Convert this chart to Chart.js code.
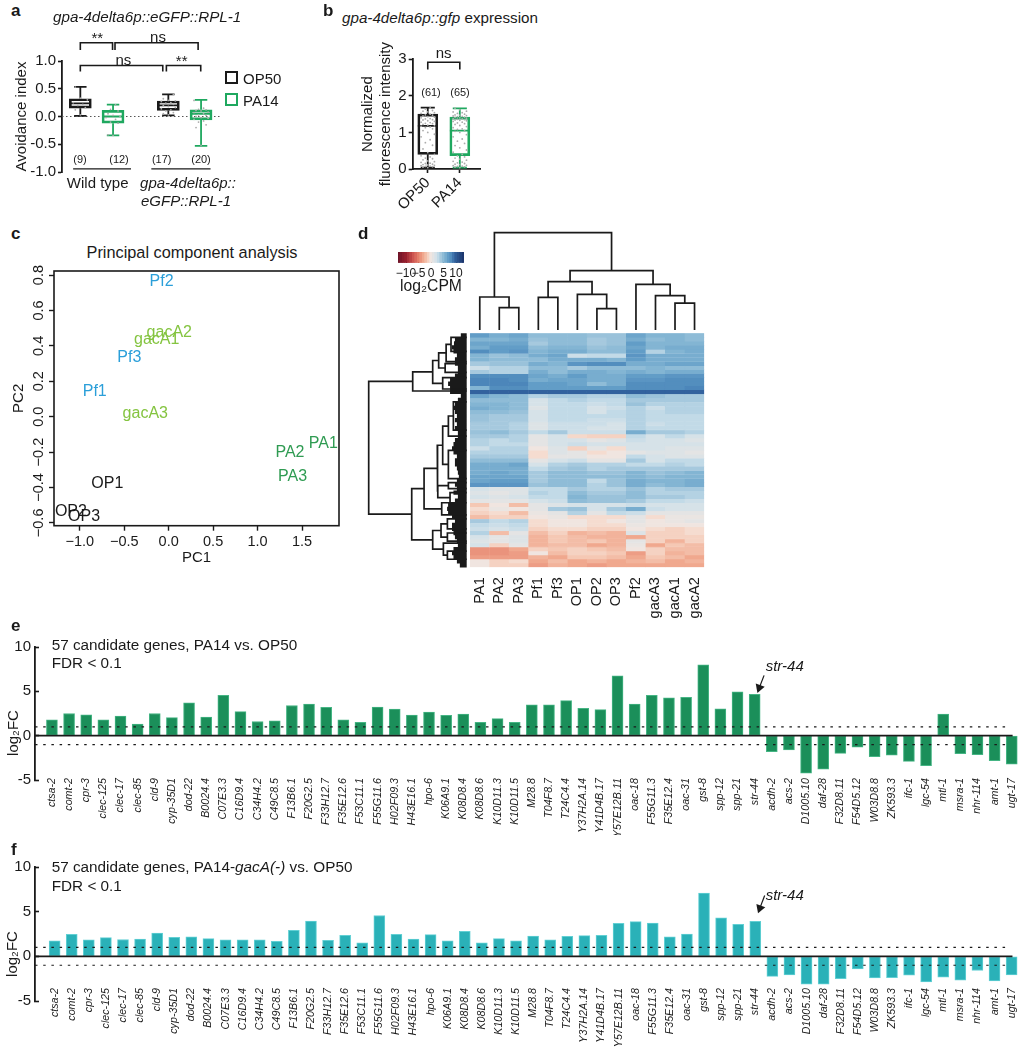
<!DOCTYPE html>
<html>
<head>
<meta charset="utf-8">
<title>str-44 figure</title>
<script src="https://cdn.jsdelivr.net/npm/chart.js@4"></script>
<style>
  html, body { margin: 0; padding: 0; background: #fff; }
  #page { position: relative; width: 1026px; height: 1050px; overflow: hidden; font-family: "Liberation Sans", Arial, sans-serif; color: #1a1a1a; }
  #page canvas { position: absolute; }
  .note { position: absolute; white-space: nowrap; line-height: 1; }
  .swatch { position: absolute; box-sizing: border-box; width: 13px; height: 13px; border: 2px solid; }
</style>
</head>
<body>
<div id="page"></div>
<script>
// panel a
const aPos = [1, 2, 3.69, 4.69];
const aLow = [0.01, -0.34, 0.02, -0.53];
const aQ1 = [0.15, -0.12, 0.11, -0.06];
const aMed = [0.235, 0, 0.2, 0.05];
const aQ3 = [0.32, 0.11, 0.28, 0.12];
const aHigh = [0.535, 0.215, 0.40, 0.30];
const aDots = [
  [0.03, 0.12, 0.16, 0.2, 0.22, 0.25, 0.3, 0.33, 0.53],
  [-0.34, -0.33, -0.12, -0.1, -0.05, -0.02, 0, 0.02, 0.05, 0.1, 0.13, 0.21],
  [0.03, 0.05, 0.07, 0.1, 0.12, 0.14, 0.16, 0.18, 0.2, 0.22, 0.24, 0.25, 0.27, 0.28, 0.29, 0.32, 0.4],
  [-0.52, -0.2, -0.15, -0.1, -0.08, -0.05, -0.03, -0.02, 0, 0.02, 0.03, 0.05, 0.07, 0.08, 0.1, 0.11, 0.12, 0.13, 0.15, 0.29]
];

// panel b
const bPos = [1, 2];
const bNames = ['OP50', 'PA14'];
const bLow = [0.04, 0.04];
const bQ1 = [0.40, 0.365];
const bMed = [1.18, 1.05];
const bQ3 = [1.5, 1.42];
const bHigh = [1.68, 1.66];
const bDots = [
  [0.04,0.05,0.06,0.07,0.08,0.09,0.1,0.11,0.12,0.13,0.15,0.16,0.18,0.2,0.22,0.25,0.28,0.3,0.33,0.36,0.4,0.45,0.55,0.65,0.72,0.8,0.88,0.95,1.0,1.05,1.1,1.13,1.15,1.17,1.18,1.2,1.22,1.24,1.25,1.27,1.28,1.3,1.32,1.34,1.35,1.37,1.38,1.4,1.42,1.43,1.45,1.47,1.48,1.5,1.52,1.54,1.56,1.58,1.6,1.64,1.67],
  [0.04,0.05,0.06,0.07,0.08,0.09,0.1,0.12,0.13,0.15,0.17,0.19,0.21,0.24,0.27,0.3,0.33,0.36,0.4,0.46,0.52,0.58,0.64,0.7,0.76,0.82,0.88,0.94,1.0,1.03,1.05,1.08,1.1,1.13,1.16,1.19,1.22,1.24,1.26,1.28,1.3,1.32,1.33,1.34,1.35,1.36,1.37,1.38,1.39,1.4,1.41,1.42,1.43,1.44,1.45,1.46,1.47,1.48,1.5,1.52,1.54,1.56,1.58,1.62,1.66]
];

// panel c
const pcaNames = ['Pf2', 'gacA2', 'gacA1', 'Pf3', 'Pf1', 'gacA3', 'PA1', 'PA2', 'PA3', 'OP1', 'OP2', 'OP3'];
const pcaX = [-0.08, 0.007, -0.135, -0.443, -0.832, -0.263, 1.739, 1.364, 1.394, -0.69, -1.10, -0.952];
const pcaY = [0.765, 0.475, 0.437, 0.333, 0.141, 0.017, -0.153, -0.201, -0.341, -0.378, -0.538, -0.567];

// panel d
const heatColumns = ['PA1', 'PA2', 'PA3', 'Pf1', 'Pf3', 'OP1', 'OP2', 'OP3', 'Pf2', 'gacA3', 'gacA1', 'gacA2'];
const heatRows = [
  [7,6,6.5,5,5,5,4.5,4.5,6.5,5.5,5.5,5],
  [5.5,5.5,6,4.5,5,5,4,4.5,6,5,5.5,5],
  [6.5,6.5,6.5,4,5,5,4,4.5,7,5.5,5.5,5.5],
  [6,7,7,5,5.5,5.5,4.5,5,6.5,5.5,6,6],
  [8,7,7.5,5.5,6,6,5,5,7,3.5,5.5,6],
  [5.5,4.5,5,6,6.5,2.5,3,3,7.5,6,6,6],
  [5.5,5,5,5,6,6,6,5.5,7,6,6,6],
  [4,4.5,4.5,6,5.5,7.5,8,8,6,6,6.5,6.5],
  [2.5,3.5,3.5,5,5,4,5,5,5,5.5,5,5],
  [4,3.5,3.5,6,5,6,6,5.5,6,5.5,6,6],
  [8,8,8,6.5,6,7,6,6,7,7,7.5,7.5],
  [8.5,8.5,8,6,6.5,6.5,6,6,7.5,7.5,8,8],
  [8.5,8.5,8.5,7,7,6.5,5,6,8,8,8,8],
  [5.5,8,8,7,7,7,7,7,8,8,8,8.5],
  [9.5,9.5,9.5,9.5,9.5,9.5,9.5,9.5,9.5,9.5,9.5,9.5],
  [6.5,5.5,5,3.5,4,4,3.5,3.5,5,4.5,4,4],
  [5,5,5,2,3,3.5,3,3,4,4,4,4],
  [5.5,5.5,5,2,3,3,2.5,3,4.5,3.5,3.5,3.5],
  [6,5.5,5,1.5,3,3,2,2.5,3.5,2.5,3.5,3.5],
  [5,5,4.5,2,3,3,2,3,3.5,3,3.5,3.5],
  [4.5,4,4,2,3,3,3,3,3.5,3,3,3],
  [4.5,4,4,2,3,3,2.5,2.5,3.5,3,3,3],
  [4,4,3.5,1.5,2.5,2.5,2.5,2,3.5,2.5,3,3],
  [4,4,3.5,1.5,2.5,2.5,2,2,3.5,3,3,3],
  [4.5,5,4,3,4,2.5,2.5,2.5,6,4,4,3.5],
  [4,4,3.5,1,2,-0.7,-1,-1,3,2,3,2],
  [3.5,3,3.5,1,2,2,1,1.5,2.5,2,2,1.5],
  [3.5,3,3,1,2,2.5,2,2,2,2,2,2],
  [2.5,3.5,3.5,0,1.5,-1,1,-0.5,2,2,1.5,1.5],
  [3.5,3.5,3.5,-0.5,1.5,1,-0.5,0,1,1.5,1.5,1],
  [4,4,4,-0.5,1,1,0,0,3,2,1.5,1.5],
  [5,5,5,1,2,2.5,1,1,4,2,3,3],
  [6,6,6.5,2,3.5,4,3.5,3.5,3,3,3.5,3],
  [6,6,6,3,4,4.5,3.5,4,4,4,4,4],
  [6,6.5,6,4,5,5,4.5,4.5,5.5,4.5,5,5.5],
  [6.5,6.5,6.5,4,5,5,5,5,5.5,5,5.5,5.5],
  [6.5,7,7,4,5,5,3,4.5,6,5.5,5.5,6],
  [7.5,7.5,7.5,4.5,5,5,3.5,4.5,6,5,5.5,6],
  [2,1.5,1.5,3,3,4,3.5,3.5,4.5,3.5,4,4],
  [1.5,1,1.5,3.5,3,5,4,4,5,3.5,3.5,3.5],
  [2,1.5,2,3,3,5.5,4.5,4.5,5,4,4,3.5],
  [1,1,1,2,2.5,5,4.5,4.5,4,3,3,2.5],
  [-1.5,0,-2,1,1.5,2,2,2,2.5,2,2,2],
  [-0.5,0.5,0,1,4,4.5,2,4,6,2.5,2,2],
  [-1,-0.5,-2,0.5,1,3.5,1,3,2.5,1,1,1],
  [-2,-1,-1,0,0.5,-0.5,-0.5,-0.5,1,-0.5,0.5,0.5],
  [4,3,3.5,-0.5,0,0,-0.5,0,1,0,0.5,1],
  [3,2.5,3,-0.5,0,0,-0.5,-0.5,0.5,0,0,0],
  [2.5,2,2.5,-1,-0.5,-0.5,-1,-1,0,-0.5,-1,-0.5],
  [3.5,-2,1,-2,-1,-2.5,-2,-2.5,1.5,-1,-1,-0.5],
  [2,1,1.5,-2.5,-1.5,-2,-2.5,-2.5,-3,-1,-1,-1],
  [1.5,1,1.5,-2.5,-1.5,-2,-1.5,-2.5,1,-1,-2.5,-1],
  [2,-1,1,-2.5,-2,-2,-3,-2.5,0.5,-3,-1.5,-2],
  [-4,-4,-3,-1,-1.5,-1,-1.5,-2,0,-1,-2,-2],
  [-4,-4,-3.5,0,-2,-1,-1,-1.5,-3.5,-1,-2.5,-2],
  [-3.5,-3.5,-3.5,-2.5,-3,-1.5,-1.5,-2,-3,-1.5,-2,-3],
  [0,-1,-0.5,-3,-2,-3,-2.5,-3,-2.5,-2,-3,-2.5],
  [0,-1,-1,-3.5,-2.5,-3,-3.5,-3,-3,-3,-3,-3]
];
const legendSteps = [-13,-12,-11,-10,-9,-8,-7,-6,-5,-4,-3,-2,-1,0,1,2,3,4,5,6,7,8,9,10,11,12,13];
const legendTicks = [-10, -5, 0, 5, 10];
// merges: [upper child, lower child, height]; a number is a leaf position, a string an earlier merge
const colTree = {
  pa: [1.5, 2.5, 0.229], pa1: [0.5, 'pa', 0.339],
  pf: [3.5, 4.5, 0.336], op: [6.5, 7.5, 0.219], op1: [5.5, 'op', 0.366], pfop: ['pf', 'op1', 0.497],
  ga: [10.5, 11.5, 0.277], ga3: [9.5, 'ga', 0.353], gp: [8.5, 'ga3', 0.469],
  mid: ['pfop', 'gp', 0.61], root: ['pa1', 'mid', 1]
};
const rowTree = {
  b0: [1, 4.5, 0.16], b1: ['b0', 7, 0.21], b2: [7.5, 9.7, 0.22], b: ['b1', 'b2', 0.286],
  c: [11, 13.8, 0.245], a: ['b', 'c', 0.347], t: ['a', 14.3, 0.551],
  m: [17, 24, 0.136], w1: ['m', 25.5, 0.187], w2: [29, 36, 0.187], w: ['w1', 'w2', 0.245],
  x: [37, 38.5, 0.187], z: [39.5, 42, 0.17], y: ['x', 'z', 0.295], v: ['w', 'y', 0.30],
  q: [42, 45, 0.255], u: ['v', 'q', 0.435],
  f: [46, 48.5, 0.197], g: [49.5, 51.5, 0.197], e: ['f', 'g', 0.262],
  i: [54, 56, 0.197], h: [52, 'i', 0.238], d: ['e', 'h', 0.347],
  l: ['u', 'd', 0.561], root: ['t', 'l', 1]
};
const rowTwigs = [.06,.12,.13,.15,.135,.10,.12,.12,.09,.09,.12,.17,.19,.17,.17,.06,.09,.12,.135,.12,.10,.12,.10,.12,.09,.09,.12,.135,.15,.135,.10,.12,.12,.10,.09,.08,.10,.12,.10,.135,.09,.12,.19,.20,.19,.15,.12,.15,.15,.135,.12,.10,.09,.135,.15,.135,.10,.07];

// panels e and f
const genes = ['ctsa-2','comt-2','cpr-3','clec-125','clec-17','clec-85','cld-9','cyp-35D1','dod-22','B0024.4','C07E3.3','C16D9.4','C34H4.2','C49C8.5','F13B6.1','F20G2.5','F33H12.7','F35E12.6','F53C11.1','F55G11.6','H02F09.3','H43E16.1','hpo-6','K06A9.1','K08D8.4','K08D8.6','K10D11.3','K10D11.5','M28.8','T04F8.7','T24C4.4','Y37H2A.14','Y41D4B.17','Y57E12B.11','oac-18','F55G11.3','F35E12.4','oac-31','gst-8','spp-12','spp-21','str-44','acdh-2','acs-2','D1005.10','daf-28','F32D8.11','F54D5.12','W03D8.8','ZK593.3','ifc-1','lgc-54','mtl-1','msra-1','nhr-114','amt-1','ugt-17'];
const pa14Fc = [1.78,2.5,2.35,1.78,2.2,1.3,2.5,2.03,3.7,2.1,4.56,2.72,1.6,1.67,3.4,3.55,3.2,1.78,1.5,3.22,3.0,2.32,2.65,2.28,2.43,1.5,1.92,1.5,3.48,3.48,3.95,3.08,2.93,6.74,3.55,4.56,4.28,4.31,8.0,3.04,4.93,4.67,-1.81,-1.6,-4.24,-3.77,-1.99,-1.3,-2.36,-2.21,-2.9,-3.37,2.43,-2.03,-2.14,-2.83,-3.22];
const gacAFc = [1.74,2.46,1.85,2.1,1.88,1.92,2.6,2.14,2.17,1.99,1.85,1.85,1.85,1.67,2.9,3.95,1.78,2.36,1.52,4.57,2.46,1.92,2.43,1.74,2.79,1.52,1.99,1.74,2.28,1.85,2.25,2.32,2.36,3.7,3.88,3.73,2.17,2.5,7.07,4.31,3.59,3.91,-2.25,-2.07,-3.12,-3.12,-2.5,-1.41,-2.43,-2.39,-2.1,-2.86,-2.32,-2.68,-1.59,-2.75,-2.07];

const BLACK = '#1a1a1a';
const GREEN = '#1fa85f';
const DOT = '#ababab';
const FONT = '"Liberation Sans", Arial, sans-serif';
Chart.defaults.font.family = FONT;
Chart.defaults.color = BLACK;
Chart.defaults.animation = false;
Chart.defaults.plugins.legend.display = false;
Chart.defaults.plugins.tooltip.enabled = false;

const page = document.getElementById('page');

function note(html, x, y, size, opts = {}) {
  const el = document.createElement('div');
  el.className = 'note';
  el.innerHTML = html;
  el.style.left = x + 'px';
  el.style.top = y + 'px';
  el.style.fontSize = size + 'px';
  if (opts.bold) el.style.fontWeight = 'bold';
  if (opts.italic) el.style.fontStyle = 'italic';
  el.style.transform = opts.transform || (opts.center ? 'translate(-50%,-50%)' : 'translateY(-50%)');
  page.appendChild(el);
}

function swatch(x, y, color) {
  const el = document.createElement('div');
  el.className = 'swatch';
  el.style.left = x + 'px';
  el.style.top = y + 'px';
  el.style.borderColor = color;
  page.appendChild(el);
}

// canvas sits at rect, plot area is pinned to area, both in page pixels
function makeChart(rect, area, config) {
  const canvas = document.createElement('canvas');
  canvas.width = rect.w;
  canvas.height = rect.h;
  canvas.style.left = rect.x + 'px';
  canvas.style.top = rect.y + 'px';
  canvas.style.width = rect.w + 'px';
  canvas.style.height = rect.h + 'px';
  page.appendChild(canvas);
  const o = config.options;
  o.responsive = false;
  const { x, y } = o.scales;
  const gapLeft = area.l - rect.x;
  const gapBottom = rect.y + rect.h - area.b;
  const padding = { top: area.t - rect.y, right: rect.x + rect.w - area.r, left: 0, bottom: 0 };
  if (y.display === false) padding.left = gapLeft;
  else y.afterFit = s => { s.width = gapLeft; };
  if (x.display === false) padding.bottom = gapBottom;
  else x.afterFit = s => { s.height = gapBottom; };
  o.layout = { padding };
  return new Chart(canvas, config);
}

function lineSet(data, color, width, extra = {}) {
  return Object.assign({
    type: 'scatter', showLine: true, data, borderColor: color, backgroundColor: color,
    borderWidth: width, pointRadius: 0, clip: false, borderJoinStyle: 'miter', order: 1
  }, extra);
}

function gapJoin(paths) {
  const out = [];
  paths.forEach(p => { out.push(...p, { x: NaN, y: NaN }); });
  return out;
}

const swarm = [0, -0.2, 0.2, -0.1, 0.1, -0.28, 0.28];

function boxDatasets(pos, low, q1, med, q3, high, dots, colors, thickness, capHalf, boxHalf) {
  const sets = [{
    type: 'bar',
    data: pos.map((p, i) => ({ x: p, y: [q1[i], q3[i]] })),
    backgroundColor: 'rgba(0,0,0,0)',
    borderColor: colors,
    borderWidth: 2,
    borderSkipped: false,
    barThickness: thickness,
    clip: false,
    order: 2
  }];
  pos.forEach((p, i) => {
    sets.push(lineSet(gapJoin([
      [{ x: p, y: q3[i] }, { x: p, y: high[i] }],
      [{ x: p - capHalf, y: high[i] }, { x: p + capHalf, y: high[i] }],
      [{ x: p, y: q1[i] }, { x: p, y: low[i] }],
      [{ x: p - capHalf, y: low[i] }, { x: p + capHalf, y: low[i] }],
      [{ x: p - boxHalf, y: med[i] }, { x: p + boxHalf, y: med[i] }]
    ]), colors[i], 1.8, { order: 2 }));
    sets.push({
      type: 'scatter',
      data: dots[i].map((v, k) => ({ x: p + swarm[k % swarm.length] * boxHalf * 2.4, y: v })),
      pointRadius: 0.9, pointBackgroundColor: DOT, pointBorderWidth: 0, clip: false, order: 0
    });
  });
  return sets;
}

function bracket(x1, x2, top, drop) {
  return [{ x: x1, y: drop }, { x: x1, y: top }, { x: x2, y: top }, { x: x2, y: drop }];
}

/* ---------- panel a ---------- */
makeChart({ x: 0, y: 25, w: 240, h: 160 }, { l: 62, r: 222, t: 61, b: 172 }, {
  type: 'bar',
  data: {
    datasets: [
      ...boxDatasets(aPos, aLow, aQ1, aMed, aQ3, aHigh, aDots, [BLACK, GREEN, BLACK, GREEN], 22, 0.19, 0.32),
      lineSet([{ x: 0.44, y: 0 }, { x: 5.33, y: 0 }], '#555', 1.2, { borderDash: [1.5, 2.5], order: 3 }),
      lineSet(bracket(1, 1.985, 1.33, 1.2), BLACK, 1.6),
      lineSet(bracket(2.06, 4.6, 1.33, 1.2), BLACK, 1.6),
      lineSet(bracket(1, 3.52, 0.92, 0.81), BLACK, 1.6),
      lineSet(bracket(3.63, 4.68, 0.92, 0.81), BLACK, 1.6),
      lineSet([{ x: 0.78, y: -0.942 }, { x: 2.55, y: -0.942 }], BLACK, 1.2),
      lineSet([{ x: 3.17, y: -0.942 }, { x: 4.98, y: -0.942 }], BLACK, 1.2)
    ]
  },
  options: {
    scales: {
      x: { type: 'linear', display: false, min: 0.44, max: 5.33, offset: false, grid: { offset: false } },
      y: {
        min: -1, max: 1,
        border: { color: BLACK, width: 1.8 },
        grid: { drawOnChartArea: false, tickColor: BLACK, tickLength: 4, tickWidth: 1.6 },
        ticks: { stepSize: 0.5, font: { size: 15 }, padding: 2, color: BLACK, callback: v => v.toFixed(1) },
        title: { display: true, text: 'Avoidance index', font: { size: 15 }, color: BLACK, padding: { top: 13 } }
      }
    }
  }
});

/* ---------- panel b ---------- */
makeChart({ x: 350, y: 40, w: 140, h: 175 }, { l: 412.7, r: 480, t: 59.3, b: 169 }, {
  type: 'bar',
  data: {
    datasets: [
      ...boxDatasets(bPos, bLow, bQ1, bMed, bQ3, bHigh, bDots, [BLACK, GREEN], 20, 0.22, 0.31),
      lineSet(bracket(1, 2, 2.92, 2.72), BLACK, 1.6)
    ]
  },
  options: {
    scales: {
      x: {
        type: 'linear', min: 0.53, max: 2.63, offset: false,
        border: { color: BLACK, width: 1.8 },
        grid: { offset: false, drawOnChartArea: false, tickColor: BLACK, tickLength: 4, tickWidth: 1.6 },
        ticks: {
          stepSize: 1, includeBounds: false, autoSkip: false, minRotation: 45, maxRotation: 45,
          font: { size: 15 }, color: BLACK, padding: 1,
          callback: v => bNames[bPos.indexOf(v)] || ''
        }
      },
      y: {
        min: 0, max: 3,
        border: { color: BLACK, width: 1.8 },
        grid: { drawOnChartArea: false, tickColor: BLACK, tickLength: 4, tickWidth: 1.6 },
        ticks: { stepSize: 1, font: { size: 15 }, padding: 2, color: BLACK },
        title: { display: true, text: ['Normalized', 'fluorescence intensity'], font: { size: 15 }, color: BLACK, padding: { top: 9 } }
      }
    }
  }
});

/* ---------- panel c ---------- */
const pcaColor = name => name.startsWith('Pf') ? '#2b9fd9' : name.startsWith('gacA') ? '#84c440' : name.startsWith('PA') ? '#2f9b52' : BLACK;
const pcaLabels = {
  id: 'pcaLabels',
  afterDatasetsDraw(chart) {
    const { ctx, scales } = chart;
    ctx.save();
    ctx.font = '16px ' + FONT;
    ctx.textAlign = 'center';
    ctx.textBaseline = 'middle';
    pcaNames.forEach((n, i) => {
      ctx.fillStyle = pcaColor(n);
      ctx.fillText(n, scales.x.getPixelForValue(pcaX[i]), scales.y.getPixelForValue(pcaY[i]));
    });
    ctx.restore();
  }
};
const frameAndVerticalTicks = {
  id: 'frameAndVerticalTicks',
  afterDraw(chart) {
    const { ctx, chartArea: a, scales } = chart;
    ctx.save();
    ctx.strokeStyle = BLACK;
    ctx.lineWidth = 1.6;
    ctx.strokeRect(a.left, a.top, a.right - a.left, a.bottom - a.top);
    ctx.fillStyle = BLACK;
    ctx.font = '14.5px ' + FONT;
    ctx.textAlign = 'center';
    ctx.textBaseline = 'middle';
    scales.y.ticks.forEach(t => {
      ctx.save();
      ctx.translate(a.left - 15, scales.y.getPixelForValue(t.value));
      ctx.rotate(-Math.PI / 2);
      ctx.fillText(t.label, 0, 0);
      ctx.restore();
    });
    ctx.restore();
  }
};
const withMinus = (v, digits) => v.toFixed(digits).replace('-', '\u2212');
makeChart({ x: 0, y: 262, w: 345, h: 306 }, { l: 54, r: 339, t: 271, b: 525.7 }, {
  type: 'scatter',
  data: { datasets: [{ data: pcaX.map((v, i) => ({ x: v, y: pcaY[i] })), pointRadius: 0 }] },
  options: {
    scales: {
      x: {
        min: -1.29, max: 1.916,
        grid: { drawOnChartArea: false, tickColor: BLACK, tickLength: 5, tickWidth: 1.4 },
        border: { display: false },
        ticks: { stepSize: 0.5, includeBounds: false, font: { size: 14.5 }, color: BLACK, padding: 3, maxRotation: 0, callback: v => withMinus(v, 1) },
        title: { display: true, text: 'PC1', font: { size: 15 }, color: BLACK, padding: { bottom: 1, top: 0 } }
      },
      y: {
        min: -0.616, max: 0.823,
        grid: { drawOnChartArea: false, tickColor: BLACK, tickLength: 5, tickWidth: 1.4 },
        border: { display: false },
        ticks: { stepSize: 0.2, includeBounds: false, display: false, callback: v => withMinus(v, 1) },
        title: { display: true, text: 'PC2', font: { size: 15 }, color: BLACK, padding: { top: 10 } }
      }
    }
  },
  plugins: [pcaLabels, frameAndVerticalTicks]
});

/* ---------- panel d ---------- */
const heatStops = [
  [-13, [110, 20, 40]], [-10, [150, 30, 45]], [-7, [205, 85, 80]], [-5, [228, 125, 105]], [-3, [240, 168, 142]], [-1.5, [245, 200, 180]],
  [-0.5, [245, 220, 208]], [0, [240, 229, 224]], [1, [228, 228, 228]], [2, [214, 226, 232]],
  [3, [194, 218, 231]], [4, [166, 201, 222]], [5.5, [131, 181, 211]], [7, [98, 157, 199]],
  [8.5, [76, 134, 186]], [9.5, [50, 98, 158]], [13, [28, 55, 110]]
];
function heatColor(v) {
  let i = 0;
  while (i < heatStops.length - 2 && v > heatStops[i + 1][0]) i++;
  const [a, ca] = heatStops[i];
  const [b, cb] = heatStops[i + 1];
  const t = Math.min(1, Math.max(0, (v - a) / (b - a)));
  const c = ca.map((x, k) => Math.round(x + (cb[k] - x) * t));
  return `rgb(${c[0]},${c[1]},${c[2]})`;
}

// heatmap cells are floating bars, one dataset per row
makeChart({ x: 465, y: 330, w: 250, h: 290 }, { l: 470, r: 704.3, t: 333.3, b: 567.3 }, {
  type: 'bar',
  data: {
    labels: heatColumns,
    datasets: heatRows.map((row, r) => ({
      data: row.map(() => [r, r + 1]),
      backgroundColor: row.map(heatColor),
      borderColor: row.map(heatColor),
      borderWidth: 0.6,
      borderSkipped: false,
      grouped: false,
      barPercentage: 1,
      categoryPercentage: 1
    }))
  },
  options: {
    scales: {
      x: {
        grid: { display: false }, border: { display: false },
        ticks: { autoSkip: false, minRotation: 90, maxRotation: 90, font: { size: 14.5 }, color: BLACK, padding: 2 }
      },
      y: { display: false, min: 0, max: heatRows.length, reverse: true }
    }
  }
});

function treePaths(tree, orient) {
  const nodes = {};
  const place = c => typeof c === 'number' ? { pos: c, h: 0 } : nodes[c];
  const paths = [];
  Object.keys(tree).forEach(name => {
    const [a, b, h] = tree[name];
    const ca = place(a);
    const cb = place(b);
    nodes[name] = { pos: (ca.pos + cb.pos) / 2, h };
    paths.push([orient(ca.pos, ca.h), orient(ca.pos, h), orient(cb.pos, h), orient(cb.pos, cb.h)]);
  });
  return gapJoin(paths);
}

makeChart({ x: 465, y: 228, w: 250, h: 104 }, { l: 470, r: 704.3, t: 232.7, b: 330 }, {
  type: 'scatter',
  data: { datasets: [lineSet(treePaths(colTree, (pos, h) => ({ x: pos, y: h })), BLACK, 1.7)] },
  options: {
    scales: {
      x: { display: false, min: 0, max: heatColumns.length },
      y: { display: false, min: 0, max: 1 }
    }
  }
});

makeChart({ x: 362, y: 330, w: 108, h: 240 }, { l: 368.7, r: 466.7, t: 333.3, b: 567.3 }, {
  type: 'scatter',
  data: {
    datasets: [
      lineSet(treePaths(rowTree, (pos, h) => ({ x: h, y: pos })), BLACK, 1.7),
      lineSet(gapJoin(rowTwigs.map((h, r) => [{ x: h, y: r + 0.5 }, { x: 0, y: r + 0.5 }])), BLACK, 4.3)
    ]
  },
  options: {
    scales: {
      x: { display: false, min: 0, max: 1, reverse: true },
      y: { display: false, min: 0, max: heatRows.length, reverse: true }
    }
  }
});

// colour key
makeChart({ x: 380, y: 248, w: 100, h: 48 }, { l: 398, r: 464, t: 252, b: 262.7 }, {
  type: 'bar',
  data: {
    datasets: [{
      data: legendSteps.map(v => ({ x: v, y: [0, 1] })),
      backgroundColor: legendSteps.map(heatColor),
      borderColor: legendSteps.map(heatColor),
      borderWidth: 0.4,
      borderSkipped: false,
      barThickness: 2.8
    }]
  },
  options: {
    scales: {
      x: {
        type: 'linear', min: -13.2, max: 13.2, offset: false,
        afterBuildTicks: s => { s.ticks = legendTicks.map(v => ({ value: v })); },
        border: { display: false },
        grid: { offset: false, drawOnChartArea: false, tickColor: BLACK, tickLength: -3, tickWidth: 1 },
        ticks: { autoSkip: false, maxRotation: 0, font: { size: 12 }, color: BLACK, padding: 7, callback: v => String(v).replace('-', '\u2212') },
        title: { display: true, text: 'log\u2082CPM', font: { size: 15.7 }, color: BLACK, padding: { top: 0, bottom: 0 } }
      },
      y: { display: false, min: 0, max: 1 }
    }
  }
});

/* ---------- panels e and f ---------- */
// the gene names start above the axis bottom, where the library clips its own tick labels
const geneLabels = {
  id: 'geneLabels',
  afterDraw(chart, args, opts) {
    const { ctx, scales } = chart;
    ctx.save();
    ctx.font = 'italic 10.7px ' + FONT;
    ctx.fillStyle = BLACK;
    ctx.textAlign = 'right';
    ctx.textBaseline = 'middle';
    scales.x.ticks.forEach(t => {
      ctx.save();
      ctx.translate(scales.x.getPixelForValue(t.value), chart.chartArea.bottom + opts.offset);
      ctx.rotate(-Math.PI / 2);
      ctx.fillText(t.label, 0, 0);
      ctx.restore();
    });
    ctx.restore();
  }
};

function foldChangeChart(rect, area, values, minX, maxX, fill, edge, arrowFrom, arrowHead, labelOffset) {
  makeChart(rect, area, {
    type: 'bar',
    data: {
      datasets: [
        {
          type: 'bar',
          data: values.map((v, i) => ({ x: i, y: v })),
          backgroundColor: fill,
          borderColor: edge,
          borderWidth: 1,
          borderSkipped: false,
          barThickness: 11,
          clip: false,
          order: 3
        },
        lineSet([{ x: minX, y: 0 }, { x: 56.05, y: 0 }], BLACK, 1.8, { order: 1 }),
        lineSet([{ x: minX, y: 1 }, { x: 55.64, y: 1 }], BLACK, 1.2, { borderDash: [2.5, 5.7], order: 2 }),
        lineSet([{ x: minX, y: -1 }, { x: 55.64, y: -1 }], BLACK, 1.2, { borderDash: [2.5, 5.7], order: 2 }),
        lineSet([arrowFrom, arrowHead], BLACK, 1.2, {
          pointStyle: 'triangle', pointRadius: [0, 5.5], pointRotation: 200,
          pointBackgroundColor: BLACK, pointBorderWidth: 0, order: 0
        })
      ]
    },
    options: {
      plugins: { geneLabels: { offset: labelOffset } },
      scales: {
        x: {
          type: 'linear', min: minX, max: maxX, offset: false,
          border: { display: false },
          grid: { offset: false, display: false, drawTicks: false },
          ticks: {
            stepSize: 1, includeBounds: false, autoSkip: false, display: false,
            callback: v => genes[v] || ''
          }
        },
        y: {
          min: -5, max: 10,
          border: { color: BLACK, width: 1.8 },
          grid: { drawOnChartArea: false, tickColor: BLACK, tickLength: -4, tickWidth: 1.6 },
          ticks: { stepSize: 5, font: { size: 15 }, padding: 8, color: BLACK }
        }
      }
    },
    plugins: [geneLabels]
  });
}

foldChangeChart({ x: 0, y: 630, w: 1026, h: 205 }, { l: 35, r: 1024, t: 642, b: 780 }, pa14Fc, -0.988, 56.51,
  '#1b8f5a', '#45b584', { x: 41.55, y: 6.8 }, { x: 41.27, y: 5.4 }, -2);
foldChangeChart({ x: 0, y: 850, w: 1026, h: 200 }, { l: 35, r: 1024, t: 862, b: 1001 }, gacAFc, -1.149, 56.52,
  '#2ab1b8', '#62d0d4', { x: 41.55, y: 6.8 }, { x: 41.27, y: 5.4 }, -13);

/* ---------- text that is not tied to an axis ---------- */
note('a', 11, 10, 17, { bold: true });
note('gpa-4delta6p::eGFP::RPL-1', 53, 17, 15.2, { italic: true });
note('**', 97.3, 36.7, 15, { center: true });
note('ns', 158, 36, 15, { center: true });
note('ns', 123.3, 58.7, 15, { center: true });
note('**', 181.7, 60, 15, { center: true });
swatch(225, 71, BLACK);
swatch(225, 93, GREEN);
note('OP50', 243, 77.7, 15);
note('PA14', 243, 100, 15);
note('(9)', 80, 159.3, 11, { center: true });
note('(12)', 119, 159.3, 11, { center: true });
note('(17)', 161.7, 159.3, 11, { center: true });
note('(20)', 201, 159.3, 11, { center: true });
note('Wild type', 97.7, 181.7, 15, { center: true });
note('gpa-4delta6p::', 188, 181.7, 15, { center: true, italic: true });
note('eGFP::RPL-1', 186, 200, 15, { center: true, italic: true });

note('b', 323, 10, 17, { bold: true });
note('<i>gpa-4delta6p::gfp</i> expression', 342, 18, 15.2);
note('ns', 443.7, 52, 15, { center: true });
note('(61)', 431, 92, 11, { center: true });
note('(65)', 460, 92, 11, { center: true });

note('c', 11, 233, 17, { bold: true });
note('Principal component analysis', 192, 252, 16.3, { center: true });

note('d', 358, 233, 17, { bold: true });

note('e', 11, 625, 17, { bold: true });
note('57 candidate genes, PA14 vs. OP50', 51.7, 645, 15.3);
note('FDR &lt; 0.1', 51.7, 662.7, 15.3);
note('log\u2082FC', 12, 733, 15, { center: true, transform: 'translate(-50%,-50%) rotate(-90deg)' });
note('str-44', 784.7, 665, 15, { center: true, italic: true });

note('f', 11, 849, 17, { bold: true });
note('57 candidate genes, PA14-<i>gacA(-)</i> vs. OP50', 51.7, 866.7, 15.3);
note('FDR &lt; 0.1', 51.7, 885.7, 15.3);
note('log\u2082FC', 11, 954, 15, { center: true, transform: 'translate(-50%,-50%) rotate(-90deg)' });
note('str-44', 784.7, 894.3, 15, { center: true, italic: true });
</script>
</body>
</html>
